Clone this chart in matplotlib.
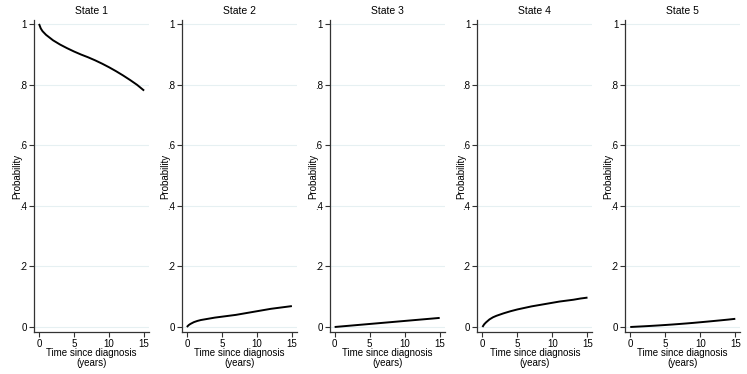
import numpy as np
import matplotlib.pyplot as plt

plt.rcParams['font.family'] = ['Liberation Sans', 'DejaVu Sans']

# Transition probabilities, by state
t = [0, 0.25, 0.5, 1, 1.5, 2, 3, 4, 5, 6, 7, 8, 9, 10, 11, 12, 13, 14, 15]
state1 = [1.0, 0.985, 0.976, 0.964, 0.955, 0.946, 0.932, 0.920, 0.909, 0.899,
          0.890, 0.880, 0.869, 0.857, 0.844, 0.830, 0.815, 0.799, 0.780]
state2 = [0.0, 0.006, 0.010, 0.016, 0.020, 0.023, 0.027, 0.031, 0.034, 0.037,
          0.040, 0.044, 0.048, 0.052, 0.056, 0.060, 0.063, 0.066, 0.069]
state3 = [0.0, 0.0005, 0.001, 0.002, 0.003, 0.004, 0.006, 0.008, 0.010, 0.012,
          0.014, 0.016, 0.018, 0.020, 0.022, 0.024, 0.026, 0.028, 0.030]
state4 = [0.0, 0.009, 0.015, 0.025, 0.032, 0.037, 0.045, 0.052, 0.058, 0.063,
          0.068, 0.072, 0.076, 0.080, 0.084, 0.087, 0.090, 0.094, 0.097]
state5 = [0.0, 0.0003, 0.0006, 0.0012, 0.0018, 0.0024, 0.0037, 0.0051, 0.0066,
          0.0082, 0.0099, 0.0117, 0.0136, 0.0157, 0.0178, 0.020, 0.0222, 0.0245, 0.027]
states = [state1, state2, state3, state4, state5]
titles = ['State 1', 'State 2', 'State 3', 'State 4', 'State 5']

yticks = [0, 0.2, 0.4, 0.6, 0.8, 1.0]
ytick_labels = ['0', '.2', '.4', '.6', '.8', '1']
xticks = [0, 5, 10, 15]

fig = plt.figure(figsize=(7.47, 3.74), dpi=100)
fig.patch.set_facecolor('white')

axis_col = '#333333'
for i, (vals, title) in enumerate(zip(states, titles)):
    left = (34 + i * 147.8) / 747
    ax = fig.add_axes([left, 1 - 332 / 374, 115 / 747, 312 / 374])
    ax.plot(t, vals, color='black', lw=1.4, solid_capstyle='butt')
    ax.set_xlim(-0.72, 15.7)
    ax.set_ylim(-0.0165, 1.013)
    ax.set_yticks(yticks)
    ax.set_yticklabels(ytick_labels)
    ax.set_xticks(xticks)
    ax.grid(axis='y', color='#e6f0f2', lw=0.8)
    ax.set_axisbelow(True)
    for side in ['top', 'right']:
        ax.spines[side].set_visible(False)
    for side in ['left', 'bottom']:
        ax.spines[side].set_color(axis_col)
        ax.spines[side].set_linewidth(0.9)
    ax.tick_params(colors=axis_col, labelcolor='black', labelsize=7, length=3.5,
                   width=0.8, pad=1.5)
    ax.set_title(title, fontsize=7.5, pad=4.5)
    ax.set_ylabel('Probability', fontsize=7, labelpad=-2.5)
    ax.set_xlabel('Time since diagnosis\n(years)', fontsize=7, labelpad=-0.5,
                  linespacing=0.95)

fig.savefig('out.png', dpi=100)
